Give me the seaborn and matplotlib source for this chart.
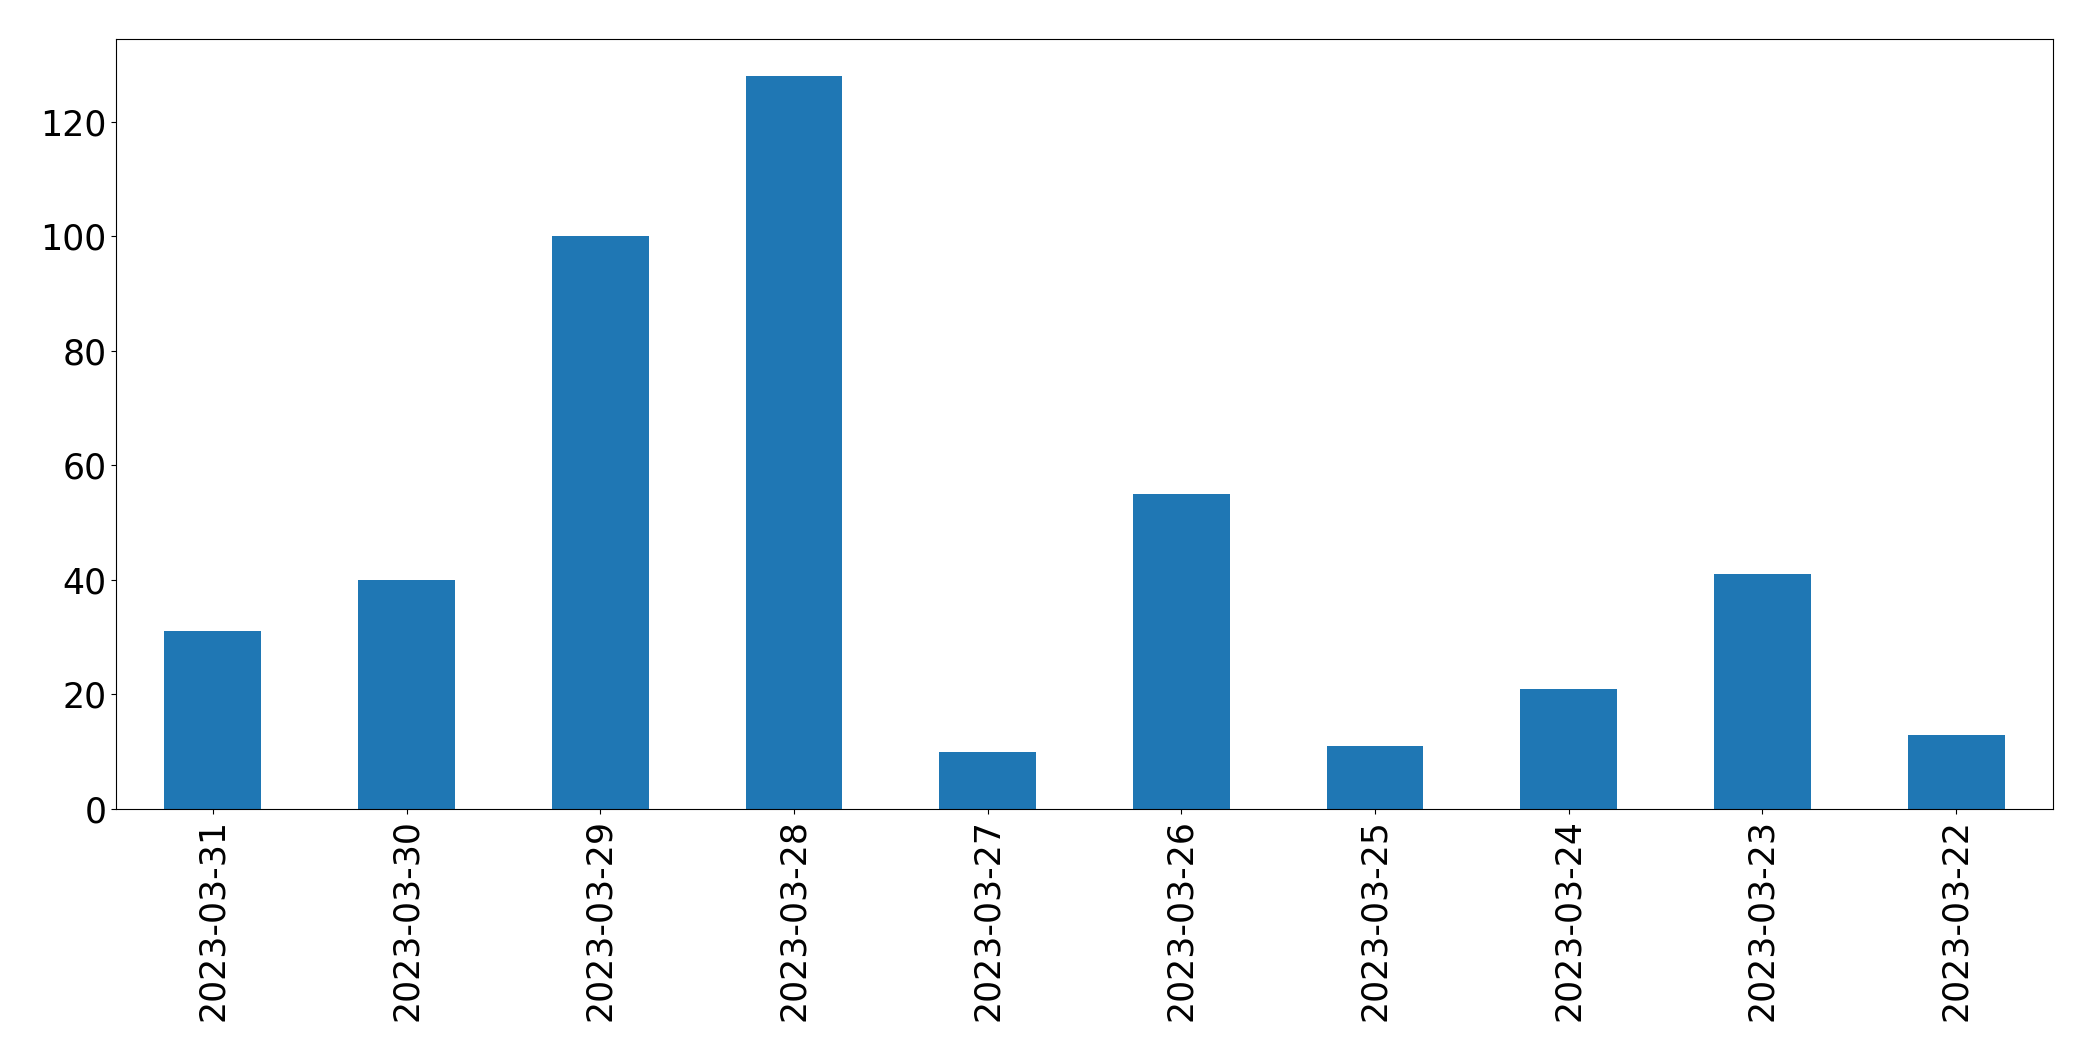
import numpy as np
import pandas as pd
import matplotlib
matplotlib.use('Agg')
import matplotlib.pyplot as plt
import seaborn as sns

# ── data ──────────────────────────────────────────────
dates = ['2023-03-31', '2023-03-30', '2023-03-29', '2023-03-28', '2023-03-27',
         '2023-03-26', '2023-03-25', '2023-03-24', '2023-03-23', '2023-03-22']
counts = [31, 40, 100, 128, 10, 55, 11, 21, 41, 13]

df = pd.DataFrame({'date': dates, 'count': counts})

# ── plot ──────────────────────────────────────────────
plt.rcParams['font.family'] = ['DejaVu Sans']
fig, ax = plt.subplots(figsize=(20.93, 10.61), dpi=100)
fig.subplots_adjust(left=116 / 2093, right=2053 / 2093, top=1 - 39 / 1061, bottom=1 - 809 / 1061)

sns.barplot(data=df, x='date', y='count', color='#1f77b4', saturation=1,
            width=0.5, ax=ax, errorbar=None, linewidth=0)
ax.set_xlim(-0.5, len(dates) - 0.5)
ax.set_ylim(0, max(counts) * 1.05)
ax.set_xlabel('')
ax.set_ylabel('')
for s in ax.spines.values():
    s.set_color('black')
ax.tick_params(axis='both', labelsize=25, colors='black')
ax.tick_params(axis='x', labelrotation=90)

plt.savefig('out.png', dpi=100)
